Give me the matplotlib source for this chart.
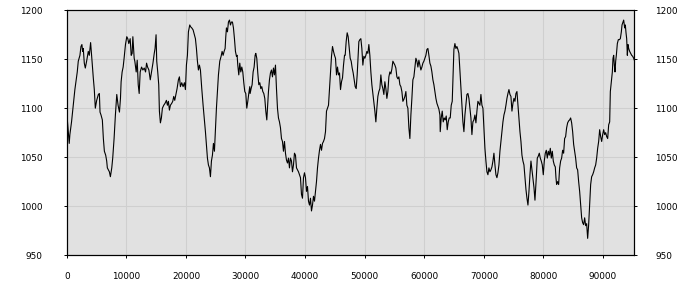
import numpy as np
import matplotlib
matplotlib.use('Agg')
import matplotlib.pyplot as plt

# series, in six stretches (x, value)
seg1_x = [0, 80, 420, 530, 810, 1090, 1370, 1540, 1770, 1940,
          2220, 2390, 2550, 2670, 2780, 2950, 3120, 3340, 3620, 3790,
          4010, 4180, 4300, 4460, 4630, 4800, 5030, 5310, 5480, 5590,
          5760, 5980, 6150, 6320, 6540, 6710, 6820, 6990, 7160, 7330,
          7560, 7720, 7950, 8170, 8400, 8620, 8850, 9020, 9130, 9300,
          9470, 9630, 9860, 10080, 10250, 10420, 10650, 10820, 10980, 11100,
          11320, 11430, 11660, 11830, 12000, 12160, 12330, 12560, 12780, 13010,
          13230, 13400, 13570, 13790, 14020, 14240, 14470, 14690]
seg1_y = [1100, 1090, 1064, 1073, 1086, 1103, 1119, 1127, 1137, 1148,
          1154, 1163, 1165, 1158, 1161, 1146, 1141, 1148, 1158, 1154,
          1167, 1154, 1144, 1131, 1119, 1100, 1108, 1114, 1115, 1096,
          1093, 1088, 1069, 1056, 1052, 1046, 1039, 1037, 1035, 1030,
          1039, 1049, 1069, 1093, 1114, 1103, 1096, 1110, 1127, 1137,
          1142, 1151, 1165, 1173, 1171, 1166, 1171, 1154, 1156, 1173,
          1151, 1148, 1137, 1149, 1124, 1115, 1137, 1142, 1139, 1141,
          1137, 1146, 1142, 1139, 1129, 1137, 1146, 1156]

seg2_x = [14826, 14994, 15106, 15274, 15442, 15554, 15722, 15889, 16057, 16281,
          16505, 16729, 16897, 17065, 17233, 17401, 17625, 17793, 17960, 18128,
          18296, 18520, 18744, 18912, 19080, 19304, 19527, 19751, 19919, 20087,
          20255, 20423, 20647, 20815, 20983, 21207, 21430, 21598, 21766, 21934,
          22102, 22270, 22438, 22662, 22886, 23110, 23277, 23445, 23613, 23781,
          23949, 24117, 24285, 24453, 24621, 24789, 24957, 25124, 25292, 25460,
          25684, 25908, 26076, 26244, 26412, 26580, 26692, 26804, 26971, 27139,
          27307, 27475, 27643, 27811, 27979, 28147, 28315, 28483, 28595, 28707,
          28874, 29042, 29210, 29378, 29546, 29714, 29882, 30050, 30218, 30386,
          30554, 30722]
seg2_y = [1161, 1175, 1148, 1137, 1124, 1097, 1085, 1090, 1100, 1103,
          1105, 1108, 1103, 1107, 1098, 1103, 1105, 1107, 1112, 1108,
          1113, 1120, 1129, 1132, 1122, 1126, 1122, 1126, 1119, 1144,
          1154, 1178, 1185, 1183, 1182, 1180, 1175, 1171, 1161, 1148,
          1139, 1144, 1139, 1120, 1103, 1088, 1076, 1063, 1049, 1042,
          1039, 1030, 1046, 1052, 1064, 1056, 1078, 1100, 1117, 1134,
          1148, 1153, 1158, 1154, 1158, 1161, 1173, 1182, 1178, 1188,
          1190, 1185, 1188, 1188, 1182, 1171, 1158, 1153, 1154, 1144,
          1134, 1146, 1137, 1142, 1137, 1126, 1117, 1115, 1100, 1107,
          1115, 1122]

seg3_x = [30776, 30944, 31112, 31280, 31448, 31616, 31727, 31895, 32063, 32231,
          32399, 32567, 32735, 32903, 33071, 33239, 33407, 33575, 33686, 33854,
          34022, 34190, 34358, 34526, 34694, 34862, 35030, 35198, 35366, 35533,
          35701, 35869, 36037, 36205, 36373, 36541, 36709, 36877, 37045, 37213,
          37380, 37548, 37716, 37884, 38052, 38220, 38388, 38556, 38724, 38892,
          39060, 39228, 39395, 39563, 39731, 39899, 40067, 40235, 40403, 40571,
          40739, 40907, 41074, 41242, 41410, 41578, 41746, 41914, 42082, 42250,
          42418, 42586, 42754, 42921, 43089, 43257, 43425, 43593, 43761, 43929,
          44097, 44265, 44433, 44601, 44769, 44937, 45104, 45272, 45440, 45608,
          45776, 45944, 46112, 46280, 46448, 46616]
seg3_y = [1115, 1120, 1124, 1137, 1142, 1154, 1156, 1151, 1136, 1124,
          1126, 1120, 1122, 1117, 1115, 1110, 1097, 1088, 1100, 1117,
          1129, 1136, 1139, 1132, 1141, 1134, 1144, 1120, 1100, 1090,
          1086, 1080, 1069, 1066, 1056, 1066, 1054, 1047, 1044, 1049,
          1039, 1049, 1046, 1035, 1042, 1054, 1052, 1039, 1037, 1035,
          1032, 1029, 1012, 1008, 1029, 1034, 1029, 1015, 1020, 1005,
          1001, 1008, 995, 1001, 1010, 1005, 1015, 1025, 1039, 1049,
          1057, 1063, 1057, 1064, 1066, 1069, 1076, 1097, 1100, 1103,
          1120, 1137, 1153, 1163, 1158, 1154, 1151, 1134, 1142, 1134,
          1136, 1119, 1127, 1131, 1144, 1154]

seg4_x = [46727, 46895, 47063, 47231, 47399, 47567, 47735, 47902, 48070, 48238,
          48406, 48574, 48742, 48910, 49022, 49190, 49358, 49526, 49694, 49861,
          50029, 50197, 50365, 50533, 50701, 50869, 51037, 51205, 51373, 51540,
          51708, 51876, 52044, 52212, 52380, 52548, 52716, 52884, 53052, 53220,
          53387, 53555, 53723, 53891, 54059, 54227, 54395, 54563, 54731, 54899,
          55067, 55234, 55402, 55570, 55738, 55906, 56074, 56242, 56410, 56578,
          56746, 56914, 57081, 57249, 57417, 57585, 57753, 57921, 58089, 58257,
          58425, 58593, 58761, 58928, 59096, 59264, 59432, 59600, 59768, 59936,
          60104, 60272, 60440, 60608, 60776, 60943, 61111, 61279, 61447, 61615,
          61783, 61951, 62119, 62287, 62455, 62623]
seg4_y = [1154, 1168, 1177, 1173, 1162, 1151, 1148, 1141, 1136, 1129,
          1122, 1120, 1134, 1154, 1168, 1170, 1171, 1161, 1144, 1153,
          1151, 1154, 1158, 1156, 1165, 1154, 1137, 1124, 1115, 1107,
          1097, 1086, 1100, 1112, 1117, 1120, 1134, 1124, 1120, 1114,
          1127, 1120, 1110, 1117, 1132, 1137, 1135, 1140, 1148, 1146,
          1144, 1141, 1132, 1130, 1132, 1124, 1122, 1117, 1107, 1109,
          1112, 1117, 1103, 1100, 1080, 1069, 1093, 1110, 1129, 1132,
          1142, 1151, 1148, 1142, 1149, 1144, 1139, 1142, 1146, 1148,
          1151, 1154, 1160, 1161, 1154, 1146, 1143, 1137, 1129, 1124,
          1117, 1110, 1105, 1102, 1099, 1093]

seg5_x = [62677, 62845, 63013, 63181, 63349, 63517, 63685, 63852, 64020, 64188,
          64356, 64524, 64692, 64860, 64972, 65140, 65308, 65476, 65644, 65812,
          65979, 66147, 66315, 66483, 66651, 66819, 66987, 67155, 67323, 67491,
          67659, 67827, 67994, 68162, 68330, 68498, 68666, 68834, 69002, 69170,
          69338, 69506, 69674, 69842, 70009, 70177, 70345, 70513, 70681, 70849,
          71017, 71185, 71353, 71521, 71689, 71857, 72024, 72192, 72360, 72528,
          72696, 72864, 73032, 73200, 73368, 73536, 73704, 73872, 74040, 74207,
          74375, 74543, 74711, 74879, 75047, 75215, 75383, 75551, 75719, 75887,
          76055, 76222, 76390, 76558, 76726, 76894, 77062, 77230, 77398, 77566,
          77734, 77902, 78070, 78238, 78406, 78574]
seg5_y = [1076, 1090, 1097, 1086, 1090, 1088, 1092, 1078, 1086, 1090,
          1090, 1103, 1107, 1137, 1160, 1166, 1161, 1163, 1160, 1156,
          1139, 1120, 1103, 1086, 1076, 1093, 1103, 1114, 1115, 1110,
          1100, 1090, 1073, 1086, 1088, 1093, 1085, 1097, 1107, 1105,
          1103, 1114, 1103, 1100, 1080, 1059, 1046, 1035, 1032, 1039,
          1035, 1037, 1040, 1046, 1054, 1042, 1032, 1029, 1034, 1042,
          1056, 1066, 1076, 1086, 1093, 1097, 1103, 1110, 1115, 1119,
          1114, 1112, 1097, 1105, 1110, 1107, 1115, 1117, 1103, 1090,
          1076, 1066, 1052, 1046, 1042, 1029, 1017, 1008, 1001, 1015,
          1032, 1046, 1037, 1029, 1019, 1006]

seg6_x = [78796, 78964, 79132, 79300, 79468, 79635, 79803, 79971, 80139, 80307,
          80475, 80643, 80811, 80979, 81147, 81315, 81483, 81650, 81818, 81986,
          82098, 82210, 82378, 82546, 82714, 82882, 83050, 83217, 83385, 83553,
          83721, 83889, 84057, 84225, 84393, 84561, 84729, 84897, 85065, 85232,
          85400, 85568, 85736, 85904, 86072, 86240, 86408, 86576, 86744, 86912,
          87080, 87248, 87416, 87584, 87751, 87919, 88087, 88255, 88423, 88591,
          88759, 88927, 89095, 89263, 89431, 89599, 89767, 89935, 90103, 90271,
          90439, 90607, 90775, 90943, 91111, 91222, 91390, 91558, 91670, 91782,
          91894, 92006, 92117, 92229, 92397, 92565, 92733, 92901, 93069, 93181,
          93349, 93461, 93628, 93740, 93852, 93964, 94076, 94188, 94300, 94468,
          94636, 94804, 94972, 95140, 95252]
seg6_y = [1029, 1049, 1051, 1054, 1049, 1046, 1042, 1032, 1046, 1054,
          1057, 1049, 1056, 1052, 1059, 1049, 1056, 1046, 1042, 1040,
          1029, 1022, 1025, 1022, 1039, 1046, 1049, 1057, 1054, 1069,
          1071, 1080, 1085, 1087, 1088, 1090, 1085, 1076, 1063, 1056,
          1049, 1039, 1037, 1025, 1015, 1001, 988, 983, 981, 988,
          980, 982, 967, 981, 1001, 1022, 1030, 1032, 1035, 1039,
          1042, 1049, 1059, 1066, 1078, 1071, 1066, 1073, 1078, 1073,
          1075, 1071, 1069, 1083, 1086, 1117, 1127, 1137, 1151, 1154,
          1144, 1137, 1148, 1154, 1166, 1170, 1170, 1171, 1178, 1185,
          1188, 1190, 1182, 1185, 1177, 1171, 1154, 1165, 1161, 1158,
          1156, 1154, 1153, 1151, 1149]

x_ticks = [0, 10000, 20000, 30000, 40000, 50000, 60000, 70000, 80000, 90000]
y_ticks = [950, 1000, 1050, 1100, 1150, 1200]

x = np.concatenate([seg1_x, seg2_x, seg3_x, seg4_x, seg5_x, seg6_x])
y = np.concatenate([seg1_y, seg2_y, seg3_y, seg4_y, seg5_y, seg6_y])

fig = plt.figure(figsize=(7, 3), dpi=100)
ax = fig.add_axes([0.0953, 0.15, 0.8109, 0.8157])
ax.set_facecolor('#e1e1e1')

ax.plot(x, y, color='black', linewidth=0.8)

ax.set_xlim(0, 95250)
ax.set_ylim(950, 1200)
ax.set_xticks(x_ticks)
ax.set_yticks(y_ticks)
ax.grid(True, color='#cfcfcf', linewidth=0.8)
ax.set_axisbelow(True)

for s in ax.spines.values():
    s.set_color('black')
    s.set_linewidth(0.8)

ax.tick_params(axis='x', direction='out', length=2, width=0.7, pad=10, labelsize=6.4, colors='black')
ax.tick_params(axis='y', direction='out', length=2.2, width=0.7, pad=15, labelsize=6.4, colors='black')

# right-hand labels use a twin axis so they get their own padding
ax2 = ax.twinx()
ax2.set_ylim(950, 1200)
ax2.set_yticks(y_ticks)
ax2.tick_params(axis='y', direction='out', length=2.2, width=0.7, pad=13, labelsize=6.4, colors='black')

fig.savefig('out.png', dpi=100, facecolor='white')
